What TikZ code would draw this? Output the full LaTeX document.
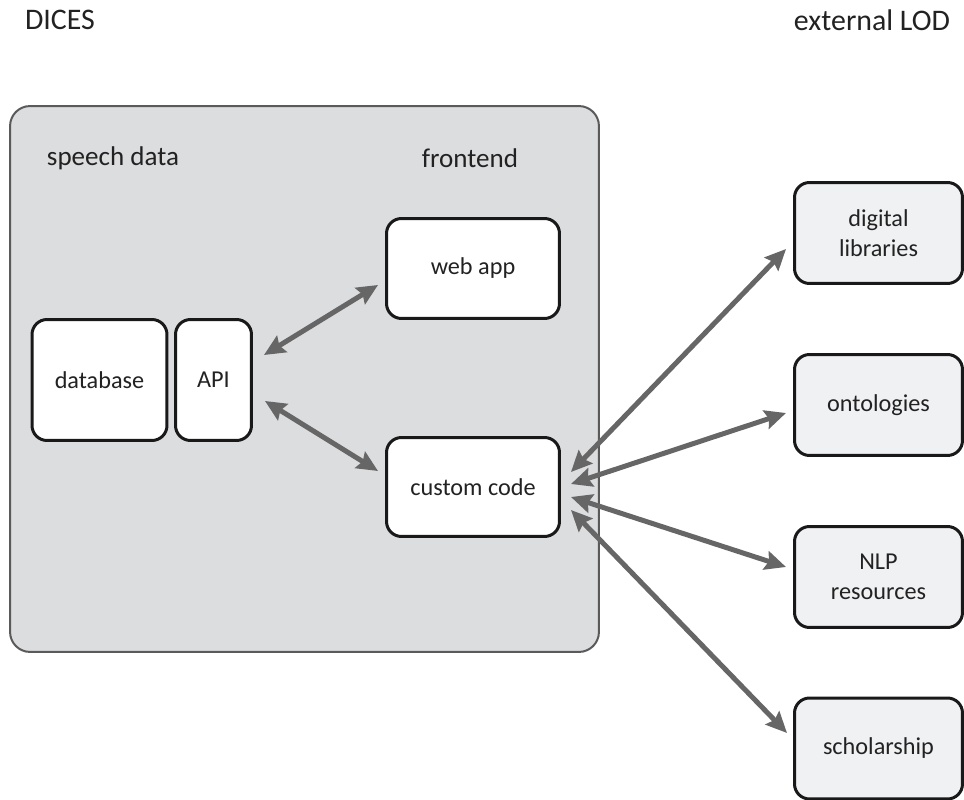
\documentclass[tikz,border=0pt]{standalone}
\usepackage{fontspec}
\setmainfont{Carlito}
\usetikzlibrary{arrows.meta,calc}
\definecolor{areafill}{HTML}{DCDDDF}
\definecolor{arealine}{HTML}{5A5A5A}
\definecolor{extfill}{HTML}{F0F1F3}
\definecolor{linkgray}{HTML}{666666}
\definecolor{textgray}{HTML}{222222}
\newcommand{\titlesize}{\fontsize{17}{20}\selectfont}
\newcommand{\labelsize}{\fontsize{15.4}{18}\selectfont}
\newcommand{\boxsize}{\fontsize{13.8}{17}\selectfont}
\begin{document}
\begin{tikzpicture}[x=0.02cm, y=-0.02cm,
    every node/.style={text=textgray},
    area/.style={draw=arealine, line width=0.4mm, fill=areafill, rounded corners=4mm,
        minimum width=11.78cm, minimum height=10.92cm},
    part/.style={draw=black!90, line width=0.6mm, fill=white, rounded corners=3mm,
        font=\boxsize, align=center},
    ext/.style={part, fill=extfill, minimum width=3.36cm, minimum height=2.02cm},
    link/.style={draw=linkgray, line width=1mm,
        {Stealth[length=4.2mm, width=3.8mm, inset=0.6mm]}-{Stealth[length=4.2mm, width=3.8mm, inset=0.6mm]}}]
    \useasboundingbox (0,0) rectangle (964,800);
    % headings
    \node[font=\titlesize] (dices) at (60,20) {DICES};
    \node[font=\titlesize] (lod) at (872,20) {external LOD};
    % DICES area
    \node[area] (dicesarea) at (304.5,379) {};
    \node[font=\labelsize] (speech) at (113,158) {speech data};
    \node[font=\labelsize] (frontend) at (470,158) {frontend};
    \node[part, minimum width=2.7cm, minimum height=2.42cm] (database) at (99.5,380) {database};
    \node[part, minimum width=1.52cm, minimum height=2.42cm] (api) at (213.5,380) {API};
    \node[part, minimum width=3.46cm, minimum height=2.0cm] (webapp) at (473,268.5) {web app};
    \node[part, minimum width=3.46cm, minimum height=1.98cm] (custom) at (473,487) {custom code};
    % external LOD
    \node[ext] (digital) at (878.5,233) {digital\\libraries};
    \node[ext] (onto) at (878.5,405) {ontologies};
    \node[ext] (nlp) at (878.5,577) {NLP\\resources};
    \node[ext] (scholar) at (878.5,748.5) {scholarship};
    % connections
    \draw[link] ($(api.east)+(11,-25)$) -- ($(webapp.west)+(-7,16.5)$);
    \draw[link] ($(api.east)+(12,21)$) -- ($(custom.west)+(-7,-16)$);
    \draw[link] ($(custom.east)+(10,-15)$) -- ($(digital.west)+(-7,16)$);
    \draw[link] ($(custom.east)+(10,-3)$) -- ($(onto.west)+(-7,8)$);
    \draw[link] ($(custom.east)+(10,10)$) -- ($(nlp.west)+(-7,-10)$);
    \draw[link] ($(custom.east)+(10,23)$) -- ($(scholar.west)+(-6,-15.5)$);
\end{tikzpicture}
\end{document}
